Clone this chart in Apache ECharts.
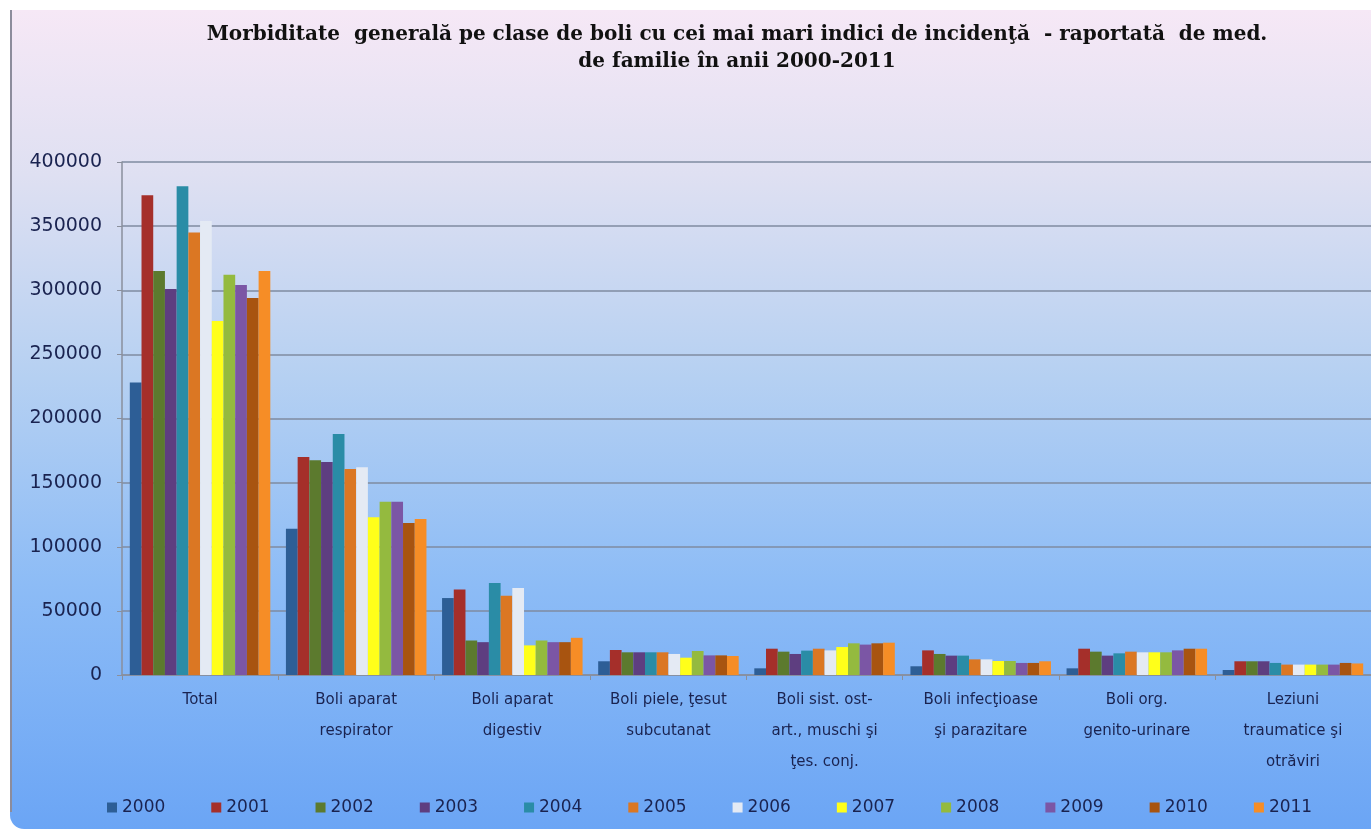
<!DOCTYPE html>
<html>
<head>
<meta charset="utf-8">
<script src="https://cdn.jsdelivr.net/npm/echarts@6/dist/echarts.min.js"></script>
<style>
  html, body { margin: 0; padding: 0; background: #fff; }
  #chart { width: 1371px; height: 833px; }
</style>
</head>
<body>
<div id="chart"></div>
<script>
// categories (last one is cut off by the right edge in the original)
const categories = [
  'Total',
  'Boli aparat\nrespirator',
  'Boli aparat\ndigestiv',
  'Boli piele, ţesut\nsubcutanat',
  'Boli sist. ost-\nart., muschi şi\nţes. conj.',
  'Boli infecţioase\nşi parazitare',
  'Boli org.\ngenito-urinare',
  'Leziuni\ntraumatice şi\notrăviri'
];

const years = ['2000', '2001', '2002', '2003', '2004', '2005', '2006', '2007', '2008', '2009', '2010', '2011'];

// values per year, one per category
const y2000 = [228000, 114000, 60000, 10700, 5200, 6800, 5200, 3900];
const y2001 = [374000, 170000, 66700, 19500, 20500, 19200, 20500, 10700];
const y2002 = [315000, 167500, 26900, 17700, 18200, 16400, 18200, 10700];
const y2003 = [301000, 166000, 25600, 17700, 16400, 15100, 15100, 10700];
const y2004 = [381000, 188000, 71800, 17700, 19000, 15100, 16900, 9400];
const y2005 = [345000, 160700, 61800, 17700, 20500, 12200, 18200, 8100];
const y2006 = [354000, 162000, 67900, 16400, 19200, 12200, 17700, 8100];
const y2007 = [276000, 123000, 23100, 13500, 21800, 10900, 17700, 8100];
const y2008 = [312000, 135100, 26900, 18700, 24700, 10900, 17700, 8100];
const y2009 = [304000, 135000, 25600, 15300, 23700, 9400, 19200, 8100];
const y2010 = [294000, 118600, 25600, 15300, 24700, 9400, 20500, 9400];
const y2011 = [315000, 121700, 29000, 14800, 25200, 10700, 20500, 9000];

const yearValues = [y2000, y2001, y2002, y2003, y2004, y2005, y2006, y2007, y2008, y2009, y2010, y2011];

const colors = ['#2D5E96', '#A52F2A', '#5C7A2E', '#5E3E80', '#2A8CA6', '#DB7723',
                '#E4EAF4', '#FFFF1A', '#94BA3F', '#7B56A5', '#A85410', '#F68D26'];

const textColor = '#1a2350';

const chart = echarts.init(document.getElementById('chart'));

const option = {
  backgroundColor: '#ffffff',
  color: colors,
  animation: false,
  graphic: [
    {
      type: 'rect',
      z: -100,
      silent: true,
      shape: { x: 10, y: 10, width: 1700, height: 819, r: [0, 0, 0, 14] },
      style: {
        fill: new echarts.graphic.LinearGradient(0, 0, 0, 1, [
          { offset: 0, color: '#F6E8F6' },
          { offset: 0.2, color: '#DFE0F2' },
          { offset: 0.45, color: '#B5D0F2' },
          { offset: 0.7, color: '#8DBCF6' },
          { offset: 1, color: '#6BA5F5' }
        ])
      }
    },
    {
      type: 'line',
      z: -99,
      silent: true,
      shape: { x1: 11, y1: 10, x2: 11, y2: 812 },
      style: { stroke: '#8c8c9c', lineWidth: 2 }
    }
  ],
  title: {
    text: 'Morbiditate  generală pe clase de boli cu cei mai mari indici de incidenţă  - raportată  de med.\nde familie în anii 2000-2011',
    left: 732,
    textAlign: 'center',
    top: 16,
    textStyle: {
      fontFamily: 'DejaVu Serif',
      fontWeight: 'bold',
      fontSize: 20,
      lineHeight: 27,
      color: '#111111'
    }
  },
  legend: {
    data: years,
    left: 102,
    top: 794,
    icon: 'rect',
    itemWidth: 10,
    itemHeight: 10,
    itemGap: 46,
    textStyle: {
      fontFamily: 'DejaVu Sans',
      fontSize: 17,
      color: textColor
    }
  },
  grid: {
    left: 122,
    right: -17,
    top: 162,
    bottom: 158
  },
  xAxis: {
    type: 'category',
    data: categories,
    axisLine: { lineStyle: { color: '#8a8f9c', width: 1.5 } },
    axisTick: { show: true, length: 5, lineStyle: { color: '#8a8f9c' } },
    axisLabel: {
      interval: 0,
      margin: 10,
      fontFamily: 'DejaVu Sans',
      fontSize: 15,
      lineHeight: 31,
      color: textColor
    }
  },
  yAxis: {
    type: 'value',
    min: 0,
    max: 400000,
    interval: 50000,
    axisLine: { show: true, lineStyle: { color: '#8a8f9c', width: 1.5 } },
    axisTick: { show: true, length: 5, lineStyle: { color: '#8a8f9c' } },
    splitLine: { lineStyle: { color: '#7f8ba0', width: 1.5 } },
    axisLabel: {
      margin: 20,
      fontFamily: 'DejaVu Sans',
      fontSize: 19,
      color: textColor,
      formatter: (v) => String(v)
    }
  },
  series: years.map((y, i) => ({
    name: y,
    type: 'bar',
    barGap: '0%',
    barCategoryGap: '10%',
    data: yearValues[i]
  }))
};

chart.setOption(option);
</script>
</body>
</html>
